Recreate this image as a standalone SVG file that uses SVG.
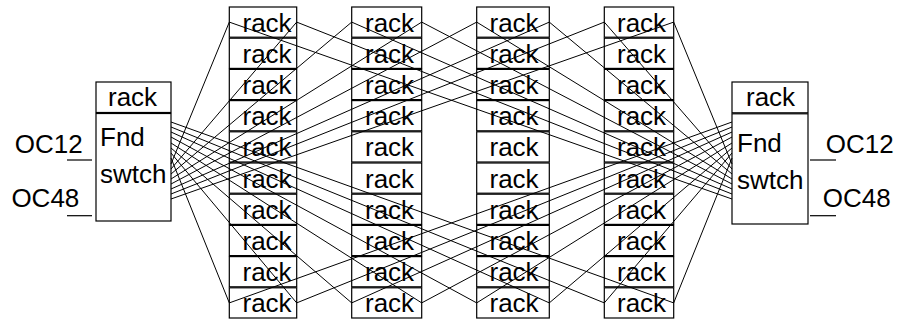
<svg xmlns="http://www.w3.org/2000/svg" width="897" height="320" viewBox="0 0 897 320">
<style>
.bx{fill:none;stroke:#000;stroke-width:1.2}
.t{font-family:"Liberation Sans",Arial,Helvetica,sans-serif;font-size:26px;fill:#000}
.c{stroke:#000;stroke-width:1;fill:none}
.stub{stroke:#000;stroke-width:1.2}
</style>
<defs>
<g id="rk1"><rect class="bx" x="0" y="0.5" width="67.4" height="30.2"/><text class="t" x="13.2" y="25">rack</text></g>
<g id="rk2"><rect class="bx" x="0" y="0.5" width="70" height="30.2"/><text class="t" x="13.3" y="25">rack</text></g>
<g id="rk3"><rect class="bx" x="0" y="0.5" width="72.6" height="30.2"/><text class="t" x="12.8" y="25">rack</text></g>
<g id="rk4"><rect class="bx" x="0" y="0.5" width="69.4" height="30.2"/><text class="t" x="12.7" y="25">rack</text></g>
</defs>
<rect width="897" height="320" fill="#fff"/>
<g id="connectors">
<line class="c" x1="171" y1="164" x2="229.3" y2="22.1"/>
<line class="c" x1="171" y1="169" x2="296.7" y2="22.1"/>
<line class="c" x1="171" y1="174" x2="351.7" y2="22.1"/>
<line class="c" x1="171" y1="179" x2="421.7" y2="22.1"/>
<line class="c" x1="171" y1="184" x2="476.7" y2="22.1"/>
<line class="c" x1="171" y1="189" x2="549.3" y2="22.1"/>
<line class="c" x1="171" y1="194" x2="604.3" y2="22.1"/>
<line class="c" x1="171" y1="199" x2="673.7" y2="22.1"/>
<line class="c" x1="171" y1="158" x2="229.3" y2="302.9"/>
<line class="c" x1="171" y1="153" x2="296.7" y2="302.9"/>
<line class="c" x1="171" y1="148" x2="351.7" y2="302.9"/>
<line class="c" x1="171" y1="143" x2="421.7" y2="302.9"/>
<line class="c" x1="171" y1="137" x2="476.7" y2="302.9"/>
<line class="c" x1="171" y1="132" x2="549.3" y2="302.9"/>
<line class="c" x1="171" y1="127" x2="604.3" y2="302.9"/>
<line class="c" x1="171" y1="122" x2="673.7" y2="302.9"/>
<line class="c" x1="732" y1="164" x2="673.7" y2="22.1"/>
<line class="c" x1="732" y1="169" x2="604.3" y2="22.1"/>
<line class="c" x1="732" y1="174" x2="549.3" y2="22.1"/>
<line class="c" x1="732" y1="179" x2="476.7" y2="22.1"/>
<line class="c" x1="732" y1="184" x2="421.7" y2="22.1"/>
<line class="c" x1="732" y1="189" x2="351.7" y2="22.1"/>
<line class="c" x1="732" y1="194" x2="296.7" y2="22.1"/>
<line class="c" x1="732" y1="199" x2="229.3" y2="22.1"/>
<line class="c" x1="732" y1="158" x2="673.7" y2="302.9"/>
<line class="c" x1="732" y1="153" x2="604.3" y2="302.9"/>
<line class="c" x1="732" y1="148" x2="549.3" y2="302.9"/>
<line class="c" x1="732" y1="143" x2="476.7" y2="302.9"/>
<line class="c" x1="732" y1="137" x2="421.7" y2="302.9"/>
<line class="c" x1="732" y1="132" x2="351.7" y2="302.9"/>
<line class="c" x1="732" y1="127" x2="296.7" y2="302.9"/>
<line class="c" x1="732" y1="122" x2="229.3" y2="302.9"/>
</g>
<g id="oc12-left"><line class="stub" x1="67" y1="160" x2="92" y2="160"/><text class="t" x="14.7" y="153">OC12</text></g>
<g id="oc48-left"><line class="stub" x1="67" y1="215.7" x2="92" y2="215.7"/><text class="t" x="11.4" y="207.3">OC48</text></g>
<g id="oc12-right"><line class="stub" x1="810" y1="160" x2="836" y2="160"/><text class="t" x="825.7" y="153">OC12</text></g>
<g id="oc48-right"><line class="stub" x1="810" y1="215.7" x2="836" y2="215.7"/><text class="t" x="822.7" y="207">OC48</text></g>
<g id="left-switch-rack"><rect class="bx" x="96" y="82" width="75" height="30.5"/><text class="t" x="108" y="106">rack</text></g>
<g id="left-switch"><rect class="bx" x="96" y="113.5" width="75" height="107.5"/><text class="t" x="100" y="146">Fnd</text><text class="t" x="100" y="183.3">swtch</text></g>
<g id="right-switch-rack"><rect class="bx" x="732" y="82" width="76" height="30.8"/><text class="t" x="746" y="106">rack</text></g>
<g id="right-switch"><rect class="bx" x="732" y="113.8" width="76" height="110.2"/><text class="t" x="737" y="151.7">Fnd</text><text class="t" x="737" y="189">swtch</text></g>
<g id="c1r1"><use href="#rk1" x="229.3" y="6.5"/></g>
<g id="c1r2"><use href="#rk1" x="229.3" y="37.7"/></g>
<g id="c1r3"><use href="#rk1" x="229.3" y="68.9"/></g>
<g id="c1r4"><use href="#rk1" x="229.3" y="100.1"/></g>
<g id="c1r5"><use href="#rk1" x="229.3" y="131.3"/></g>
<g id="c1r6"><use href="#rk1" x="229.3" y="162.5"/></g>
<g id="c1r7"><use href="#rk1" x="229.3" y="193.7"/></g>
<g id="c1r8"><use href="#rk1" x="229.3" y="224.9"/></g>
<g id="c1r9"><use href="#rk1" x="229.3" y="256.1"/></g>
<g id="c1r10"><use href="#rk1" x="229.3" y="287.3"/></g>
<g id="c2r1"><use href="#rk2" x="351.7" y="6.5"/></g>
<g id="c2r2"><use href="#rk2" x="351.7" y="37.7"/></g>
<g id="c2r3"><use href="#rk2" x="351.7" y="68.9"/></g>
<g id="c2r4"><use href="#rk2" x="351.7" y="100.1"/></g>
<g id="c2r5"><use href="#rk2" x="351.7" y="131.3"/></g>
<g id="c2r6"><use href="#rk2" x="351.7" y="162.5"/></g>
<g id="c2r7"><use href="#rk2" x="351.7" y="193.7"/></g>
<g id="c2r8"><use href="#rk2" x="351.7" y="224.9"/></g>
<g id="c2r9"><use href="#rk2" x="351.7" y="256.1"/></g>
<g id="c2r10"><use href="#rk2" x="351.7" y="287.3"/></g>
<g id="c3r1"><use href="#rk3" x="476.7" y="6.5"/></g>
<g id="c3r2"><use href="#rk3" x="476.7" y="37.7"/></g>
<g id="c3r3"><use href="#rk3" x="476.7" y="68.9"/></g>
<g id="c3r4"><use href="#rk3" x="476.7" y="100.1"/></g>
<g id="c3r5"><use href="#rk3" x="476.7" y="131.3"/></g>
<g id="c3r6"><use href="#rk3" x="476.7" y="162.5"/></g>
<g id="c3r7"><use href="#rk3" x="476.7" y="193.7"/></g>
<g id="c3r8"><use href="#rk3" x="476.7" y="224.9"/></g>
<g id="c3r9"><use href="#rk3" x="476.7" y="256.1"/></g>
<g id="c3r10"><use href="#rk3" x="476.7" y="287.3"/></g>
<g id="c4r1"><use href="#rk4" x="604.3" y="6.5"/></g>
<g id="c4r2"><use href="#rk4" x="604.3" y="37.7"/></g>
<g id="c4r3"><use href="#rk4" x="604.3" y="68.9"/></g>
<g id="c4r4"><use href="#rk4" x="604.3" y="100.1"/></g>
<g id="c4r5"><use href="#rk4" x="604.3" y="131.3"/></g>
<g id="c4r6"><use href="#rk4" x="604.3" y="162.5"/></g>
<g id="c4r7"><use href="#rk4" x="604.3" y="193.7"/></g>
<g id="c4r8"><use href="#rk4" x="604.3" y="224.9"/></g>
<g id="c4r9"><use href="#rk4" x="604.3" y="256.1"/></g>
<g id="c4r10"><use href="#rk4" x="604.3" y="287.3"/></g>
</svg>
